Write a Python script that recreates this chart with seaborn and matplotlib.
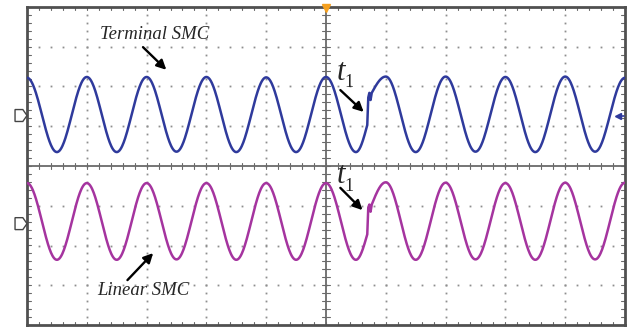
import numpy as np
import pandas as pd
import matplotlib
matplotlib.use("Agg")
import matplotlib.pyplot as plt
from matplotlib.patches import Polygon
import seaborn as sns

# ---- data (x: divisions 0..10, y: divisions -4..4) ----
top_t = [0.0, 0.5, 1.0, 1.5, 2.0, 2.5, 3.0, 3.5, 4.0, 4.5, 5.0, 5.5,
         5.69, 5.705, 5.725, 5.745, 5.765,
         6.0, 6.5, 7.0, 7.5, 8.0, 8.5, 9.0, 9.5, 10.0]
top_v = [2.22, 0.35, 2.24, 0.35, 2.24, 0.36, 2.24, 0.35, 2.23, 0.35, 2.24, 0.35,
         1.03, 1.71, 1.84, 1.66, 1.84,
         2.25, 0.35, 2.25, 0.36, 2.24, 0.35, 2.25, 0.36, 2.22]
bot_t = top_t
bot_v = [-0.43, -2.36, -0.43, -2.36, -0.43, -2.35, -0.43, -2.36, -0.43, -2.36, -0.43, -2.36,
         -1.72, -1.05, -0.97, -1.15, -0.97,
         -0.41, -2.36, -0.42, -2.35, -0.43, -2.36, -0.42, -2.35, -0.42]
seg_shape = (["c"] * 11 + ["i", "l", "l", "l", "l", "o"] + ["c"] * 8)

TOP_COLOR = "#2f3a9c"
BOT_COLOR = "#a5349f"


def build(ts, vs, shapes, n=60):
    xs, ys = [], []
    for i in range(len(ts) - 1):
        a, b = vs[i], vs[i + 1]
        s = np.linspace(0, 1, n, endpoint=False)
        m = shapes[i]
        if m == "c":
            f = (1 - np.cos(np.pi * s)) / 2
        elif m == "i":
            f = 1 - np.cos(np.pi * s / 2)
        elif m == "o":
            f = np.sin(np.pi * s / 2)
        else:
            f = s
        xs.append(ts[i] + (ts[i + 1] - ts[i]) * s)
        ys.append(a + (b - a) * f)
    xs.append([ts[-1]])
    ys.append([vs[-1]])
    return np.concatenate(xs), np.concatenate(ys)


x1, y1 = build(top_t, top_v, seg_shape)
x2, y2 = build(bot_t, bot_v, seg_shape)
df = pd.concat([
    pd.DataFrame({"t": x1, "v": y1, "ch": "Terminal SMC"}),
    pd.DataFrame({"t": x2, "v": y2, "ch": "Linear SMC"}),
])

sns.set_style("white")
W, H = 632, 327
fig = plt.figure(figsize=(W / 100, H / 100), dpi=100)
L, R, T, B = 27, 625, 7, 325
ax = fig.add_axes([L / W, (H - B) / H, (R - L) / W, (B - T) / H])
ax.set_xlim(0, 10)
ax.set_ylim(-4, 4)
ax.set_xticks([])
ax.set_yticks([])

# grid dots
gc = "#8e8e8e"
minor_y = np.arange(-4, 4.001, 0.2)
minor_x = np.arange(0, 10.001, 0.2)
for gx in [1, 2, 3, 4, 6, 7, 8, 9]:
    ax.plot([gx] * len(minor_y), minor_y, ls="none", marker="s", ms=1.3, mew=0, color=gc, zorder=1)
for gy in [-3, -2, -1, 1, 2, 3]:
    ax.plot(minor_x, [gy] * len(minor_x), ls="none", marker="s", ms=1.3, mew=0, color=gc, zorder=1)

# center axes with minor ticks
ac = "#6a6a6a"
ax.axvline(5, color=ac, lw=1.3, zorder=2)
ax.axhline(0, color=ac, lw=1.3, zorder=2)
for yy in minor_y:
    ax.plot([4.94, 5.06], [yy, yy], color=ac, lw=0.8, zorder=2)
for xx in minor_x:
    ax.plot([xx, xx], [-0.07, 0.07], color=ac, lw=0.8, zorder=2)
# border inward ticks
for xx in minor_x:
    ax.plot([xx, xx], [4, 3.92], color=ac, lw=0.8, zorder=2)
    ax.plot([xx, xx], [-4, -3.92], color=ac, lw=0.8, zorder=2)
for yy in minor_y:
    ax.plot([0, 0.06], [yy, yy], color=ac, lw=0.8, zorder=2)
    ax.plot([10, 9.94], [yy, yy], color=ac, lw=0.8, zorder=2)

for sp in ax.spines.values():
    sp.set_color("#505050")
    sp.set_linewidth(2.0)

sns.lineplot(data=df, x="t", y="v", hue="ch", palette=[TOP_COLOR, BOT_COLOR],
             estimator=None, sort=False, lw=1.8, legend=False, ax=ax, zorder=3)
ax.set_xlabel("")
ax.set_ylabel("")

# channel markers on the left
for yc in [1.27, -1.45]:
    poly = Polygon([(-0.2, yc + 0.15), (-0.07, yc + 0.15), (0.0, yc),
                    (-0.07, yc - 0.15), (-0.2, yc - 0.15)], closed=True,
                   facecolor="white", edgecolor="#444444", lw=1.0, clip_on=False, zorder=5)
    ax.add_patch(poly)

# right-side marker & trigger marker
ax.plot([9.88], [1.25], marker="<", ms=5, color=TOP_COLOR, clip_on=False, zorder=5)
ax.plot([9.88, 9.98], [1.25, 1.25], color=TOP_COLOR, lw=1.2, zorder=5)
ax.plot([5], [3.97], marker="v", ms=6, color="#f5a020", clip_on=False, zorder=6)

# annotations
serif = ["Liberation Serif", "DejaVu Serif"]
arrow = dict(arrowstyle="-|>", color="black", lw=1.7, mutation_scale=14, shrinkA=0, shrinkB=0)
ax.text(2.14, 3.30, "Terminal SMC", family=serif, style="italic", fontsize=13.5,
        ha="center", va="center", zorder=7)
ax.annotate("", xy=(2.33, 2.42), xytext=(1.94, 2.99), arrowprops=arrow, zorder=7)
ax.text(1.94, -3.12, "Linear SMC", family=serif, style="italic", fontsize=13.5,
        ha="center", va="center", zorder=7)
ax.annotate("", xy=(2.11, -2.19), xytext=(1.68, -2.87), arrowprops=arrow, zorder=7)

for (tx, ty, ax0, ay0, ax1, ay1) in [(5.25, 2.36, 5.24, 1.91, 5.63, 1.36),
                                      (5.25, -0.25, 5.24, -0.55, 5.61, -1.11)]:
    ax.text(tx, ty, "t", family=serif, style="italic", fontsize=22,
            ha="center", va="center", zorder=7)
    ax.text(tx + 0.13, ty - 0.26, "1", family=serif, fontsize=13,
            ha="center", va="center", zorder=7)
    ax.annotate("", xy=(ax1, ay1), xytext=(ax0, ay0), arrowprops=arrow, zorder=7)

fig.savefig("out.png", dpi=100)
